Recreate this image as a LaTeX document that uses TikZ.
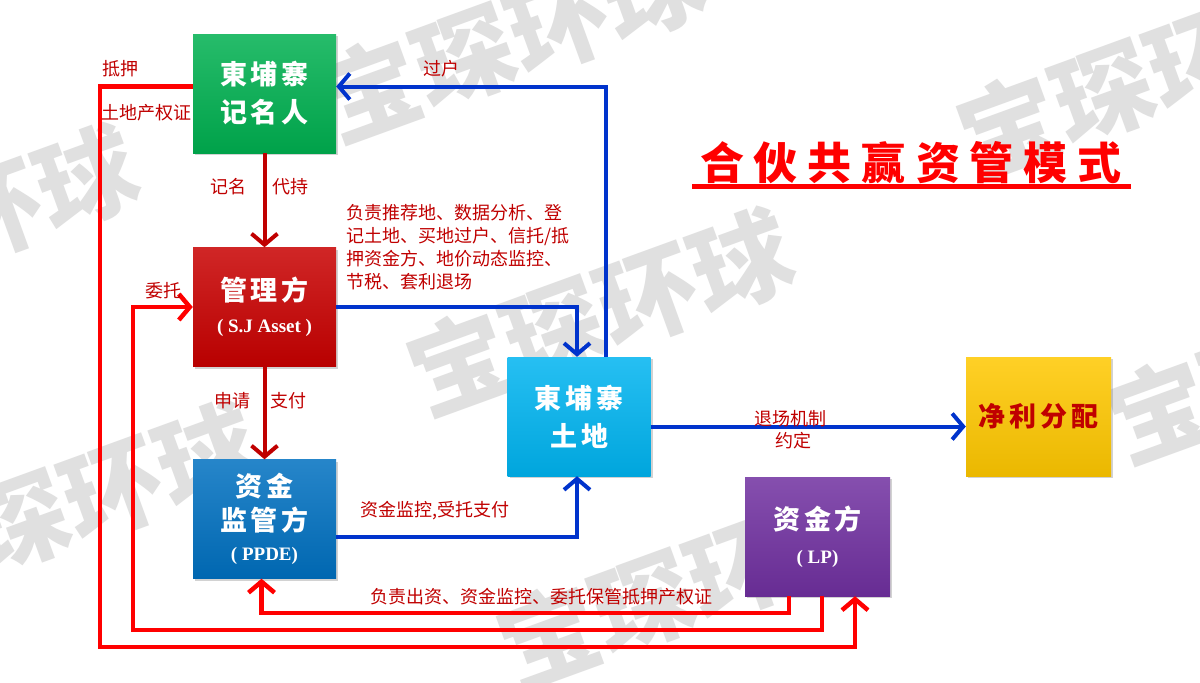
\documentclass[tikz,border=0pt]{standalone}
\usepackage{fontspec}
\setmainfont{Liberation Serif}
\newfontfamily\cjk{Noto Sans CJK SC}
\usetikzlibrary{arrows.meta,shadows,calc}
\definecolor{boxgreen}{RGB}{0,176,80}
\definecolor{boxred}{RGB}{200,0,0}
\definecolor{boxblue}{RGB}{0,112,192}
\definecolor{boxcyan}{RGB}{0,180,240}
\definecolor{boxyellow}{RGB}{255,200,0}
\definecolor{boxpurple}{RGB}{112,48,160}
\definecolor{lnred}{RGB}{255,0,0}
\definecolor{lndark}{RGB}{192,0,0}
\definecolor{lnblue}{RGB}{0,51,204}
\definecolor{txtred}{RGB}{192,0,0}
\newcommand\chsp{\hspace{4pt}}
\newcommand\ttsp{\hspace{10pt}}
\tikzset{
  box/.style={draw=none, minimum width=143pt, minimum height=119pt, inner sep=0pt,
    align=center, text=white, font=\cjk\bfseries\fontsize{27}{38}\selectfont,
    drop shadow={shadow xshift=2pt,shadow yshift=-2pt,opacity=.35}},
  conn/.style={line width=4pt, -{Straight Barb[length=11pt,width=26pt]}},
  darkconn/.style={conn, draw=lndark},
  blueconn/.style={conn, draw=lnblue},
  redconn/.style={conn, draw=lnred, line width=4.5pt},
  lbl/.style={text=txtred, font=\cjk\fontsize{18}{23}\selectfont, inner sep=0pt},
  wm/.style={text=black!12, font=\cjk\bfseries\fontsize{100}{100}\selectfont, rotate=20, inner sep=0pt}
}
\begin{document}
\begin{tikzpicture}[x=1pt,y=-1pt]
\fill[white] (0,0) rectangle (1200,683);
\useasboundingbox (0,0) rectangle (1200,683);
% watermarks
\node[wm] (w1) at (600,312) {宝琛环球};
\node[wm] (w2) at (-55,228) {宝琛环球};
\node[wm] (w3) at (65,505) {宝琛环球};
\node[wm] (w4) at (690,585) {宝琛环球};
\node[wm] (w5) at (511,39) {宝琛环球};
\node[wm] (w6) at (1150,75) {宝琛环球};
\node[wm] (w7) at (1300,360) {宝琛环球};
% boxes
\node[box, top color=boxgreen!85!white, bottom color=boxgreen!92!black] (rec) at (264.5,93.5)
  {東\chsp{}埔\chsp{}寨\\记\chsp{}名\chsp{}人};
\node[box, top color=boxred!85!white, bottom color=boxred!92!black] (mgr) at (264.5,307)
  {管\chsp{}理\chsp{}方\\[-6pt]{\rmfamily\bfseries\fontsize{19}{22}\selectfont ( S.J Asset )}};
\node[box, top color=boxblue!85!white, bottom color=boxblue!92!black, font=\cjk\bfseries\fontsize{27}{34}\selectfont] (ppde) at (264.5,519)
  {资\chsp{}金\\监\chsp{}管\chsp{}方\\[-4pt]{\rmfamily\bfseries\fontsize{19}{22}\selectfont ( PPDE)}};
\node[box, top color=boxcyan!85!white, bottom color=boxcyan!92!black] (land) at (579,416.5)
  {東\chsp{}埔\chsp{}寨\\土\chsp{}地};
\node[box, minimum width=145pt, top color=boxyellow!85!white, bottom color=boxyellow!92!black, text=txtred] (yel) at (1038.5,416.5)
  {净\chsp{}利\chsp{}分\chsp{}配};
\node[box, minimum width=145pt, top color=boxpurple!85!white, bottom color=boxpurple!92!black] (lp) at (817.5,536.5)
  {资\chsp{}金\chsp{}方\\[-4pt]{\rmfamily\bfseries\fontsize{19}{22}\selectfont ( LP)}};
% title
\node[text=red, font=\cjk\bfseries\fontsize{44}{50}\selectfont, inner sep=0pt] (title) at (911,163)
  {合\ttsp{}伙\ttsp{}共\ttsp{}赢\ttsp{}资\ttsp{}管\ttsp{}模\ttsp{}式};
\coordinate (ulA) at (692,186);
\coordinate (ulB) at (1131,186);
\draw[red, line width=5pt] (ulA) -- (ulB);
% corner coordinates
\coordinate (c1) at (133,307);
\coordinate (c2) at (100,647);
% connectors
\draw[darkconn] (rec.south) -- (mgr.north);
\draw[darkconn] (mgr.south) -- (ppde.north);
\draw[blueconn] (mgr.east) -| ([xshift=-2pt]land.north);
\draw[blueconn] ([xshift=27pt]land.north) |- ([yshift=7pt]rec.east);
\draw[blueconn] ([yshift=-18pt]ppde.east) -| ([xshift=-2pt]land.south);
\draw[blueconn] ([yshift=-10pt]land.east) -- ([yshift=-10pt]yel.west);
\draw[redconn] ([xshift=-28.5pt]lp.south) -- ++(0,17) -| ([xshift=-3pt]ppde.south);
\draw[redconn] ([xshift=4.5pt]lp.south) -- ++(0,34) -| (c1) -- (mgr.west);
\draw[redconn] ([yshift=7pt]rec.west) -| (c2) -| ([xshift=37.5pt]lp.south);
% labels
\node[lbl] (l1) at (228,187) {记名};
\node[lbl] (l2) at (290,187) {代持};
\node[lbl] (l3) at (232,401) {申请};
\node[lbl] (l4) at (288,401) {支付};
\node[lbl, anchor=north west, align=left] (l5) at (346,204)
  {负责推荐地、数据分析、登\\记土地、买地过户、信托/抵\\押资金方、地价动态监控、\\节税、套利退场};
\node[lbl] (l6) at (441,69) {过户};
\node[lbl] (l7) at (435,511) {资金监控,受托支付};
\node[lbl] (l8) at (790,419) {退场机制};
\node[lbl] (l9) at (793,441) {约定};
\node[lbl] (l10) at (541,597) {负责出资、资金监控、委托保管抵押产权证};
\node[lbl] (l11) at (163,291) {委托};
\node[lbl] (l12) at (120,69) {抵押};
\node[lbl] (l13) at (146,113) {土地产权证};
\end{tikzpicture}
\end{document}
